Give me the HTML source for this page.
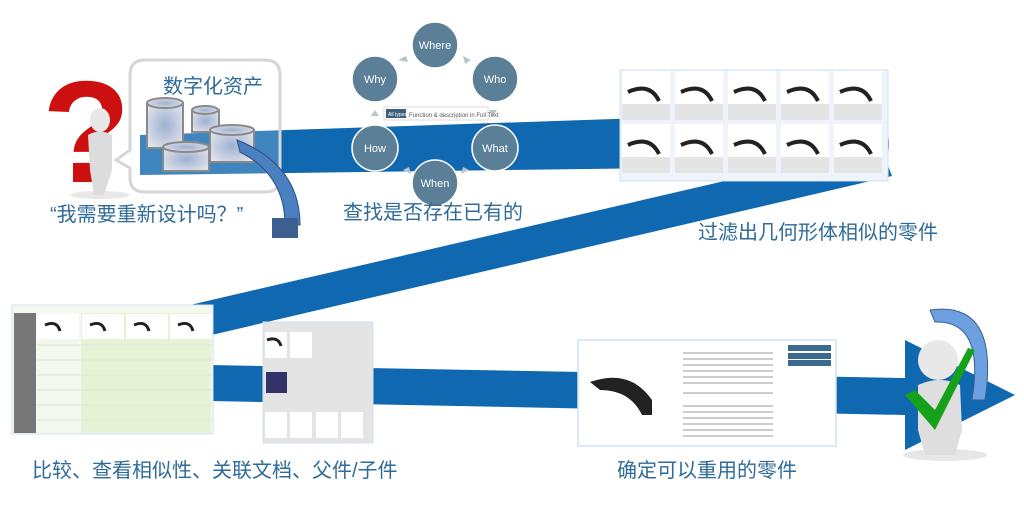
<!DOCTYPE html>
<html><head><meta charset="utf-8"><style>
body{margin:0;background:#fff;width:1024px;height:506px;overflow:hidden;position:relative;font-family:"Liberation Sans","Noto Sans CJK SC",sans-serif}
.t{position:absolute;color:#2e6b99;font-size:20px;white-space:nowrap;font-family:"Liberation Sans","Noto Sans CJK SC",sans-serif}
</style></head><body>
<svg width="1024" height="506" style="position:absolute;left:0;top:0">
<defs>
<radialGradient id="cy" cx="50%" cy="50%" r="60%"><stop offset="0" stop-color="#9fb0d0"/><stop offset="1" stop-color="#dfe3ea"/></radialGradient>
</defs>
<path d="M140,135 L880,110 Q895,140 885,165 L140,175 Z" fill="#1068b0"/>
<path d="M880,145 L892,176 L190,340 L190,305 Z" fill="#1068b0"/>
<path d="M210,365 L905,378 L905,340 L1015,395 L905,450 L905,415 L210,401 Z" fill="#1068b0"/>
<path d="M145,60 H265 Q280,60 280,75 V178 Q280,192 265,192 H145 Q130,192 130,178 V168 L116,160 L130,150 V75 Q130,60 145,60 Z" fill="rgba(255,255,255,0.2)" stroke="#d6d6d6" stroke-width="3"/>
<g stroke="#8a8a8a" stroke-width="2" fill="url(#cy)">
<rect x="147" y="103" width="36" height="45"/><ellipse cx="165" cy="103" rx="18" ry="5"/>
<rect x="192" y="110" width="27" height="22"/><ellipse cx="205" cy="110" rx="13" ry="4"/>
<rect x="163" y="147" width="46" height="24"/><ellipse cx="186" cy="147" rx="23" ry="5"/>
<rect x="210" y="130" width="44" height="32"/><ellipse cx="232" cy="130" rx="22" ry="5"/>
</g>
<path d="M237,140 Q300,165 300,225 L285,225 Q285,175 240,152 Z" fill="#4a7fc0" stroke="#2d4f80"/>
<rect x="272" y="218" width="26" height="20" fill="#3d5f90"/>
<text x="42" y="182" font-size="145" font-weight="bold" fill="#cc1010" font-family="Liberation Sans">?</text>
<ellipse cx="100" cy="195" rx="30" ry="4" fill="#e8e8e8"/>
<ellipse cx="100" cy="120" rx="10" ry="12" fill="#e8e8e8"/>
<path d="M88,135 Q100,128 112,135 L112,170 L104,195 L94,195 L90,170 Z" fill="#dcdcdc"/>
<g fill="#5a7f96" stroke="#fff" stroke-width="1.5">
<circle cx="435" cy="45" r="23"/><circle cx="495" cy="79" r="23"/><circle cx="495" cy="148" r="23"/>
<circle cx="435" cy="183" r="23"/><circle cx="375" cy="148" r="23"/><circle cx="375" cy="79" r="23"/>
</g>
<g fill="#fff" font-size="11" text-anchor="middle" font-family="Liberation Sans">
<text x="435" y="49">Where</text><text x="495" y="83">Who</text><text x="495" y="152">What</text>
<text x="435" y="187">When</text><text x="375" y="152">How</text><text x="375" y="83">Why</text>
</g>
<g fill="#b8c4cc"><path d="M398,60 l8,-4 l2,6 z"/><path d="M463,56 l8,4 l-6,4 z"/><path d="M489,110 h8 l-4,6 z"/><path d="M469,170 l-8,4 l2,-7 z"/><path d="M403,170 l8,4 l-2,-7z"/><path d="M371,116 l4,-6 l4,6z"/></g>
<rect x="384" y="107" width="104" height="13" fill="#fff" stroke="#ddd"/>
<rect x="386" y="109" width="20" height="9" fill="#3e5f7c"/>
<text x="388" y="116" font-size="5" fill="#fff" font-family="Liberation Sans">All types</text>
<text x="409" y="117" font-size="6" fill="#555" font-family="Liberation Sans">Function &amp; description in Full Text</text>
<rect x="620" y="70" width="268" height="111" fill="#eef4fa" stroke="#cfe2f3"/>
<g fill="#e4e4e4">
<rect x="622" y="71" width="48" height="49"/><rect x="675" y="71" width="48" height="49"/><rect x="728" y="71" width="48" height="49"/><rect x="781" y="71" width="48" height="49"/><rect x="834" y="71" width="48" height="49"/>
<rect x="622" y="124" width="48" height="49"/><rect x="675" y="124" width="48" height="49"/><rect x="728" y="124" width="48" height="49"/><rect x="781" y="124" width="48" height="49"/><rect x="834" y="124" width="48" height="49"/>
</g>
<g fill="#fff"><rect x="622" y="71" width="48" height="33"/><rect x="675" y="71" width="48" height="33"/><rect x="728" y="71" width="48" height="33"/><rect x="781" y="71" width="48" height="33"/><rect x="834" y="71" width="48" height="33"/>
<rect x="622" y="124" width="48" height="33"/><rect x="675" y="124" width="48" height="33"/><rect x="728" y="124" width="48" height="33"/><rect x="781" y="124" width="48" height="33"/><rect x="834" y="124" width="48" height="33"/></g>
<g fill="none" stroke="#222" stroke-width="4">
<path d="M628,92 Q650,82 659,101"/><path d="M681,92 Q703,82 712,101"/><path d="M734,92 Q756,82 765,101"/><path d="M787,92 Q809,82 818,101"/><path d="M840,92 Q862,82 871,101"/>
<path d="M628,145 Q650,135 659,154"/><path d="M681,145 Q703,135 712,154"/><path d="M734,145 Q756,135 765,154"/><path d="M787,145 Q809,135 818,154"/><path d="M840,145 Q862,135 871,154"/>
</g>
<rect x="12" y="305" width="201" height="129" fill="#f4f8ee" stroke="#cfe2f3"/>
<rect x="14" y="313" width="22" height="120" fill="#777"/>
<rect x="81" y="313" width="130" height="120" fill="#e6f2d6"/>
<g fill="#fff"><rect x="37" y="314" width="42" height="25"/><rect x="82" y="314" width="42" height="25"/><rect x="126" y="314" width="42" height="25"/><rect x="170" y="314" width="42" height="25"/></g>
<g fill="none" stroke="#222" stroke-width="3"><path d="M45,325 Q57,320 60,331"/><path d="M90,325 Q102,320 105,331"/><path d="M134,325 Q146,320 149,331"/><path d="M178,325 Q190,320 193,331"/></g>
<g stroke="#dde6d0" stroke-width="1"><line x1="37" y1="345" x2="212" y2="345"/><line x1="37" y1="360" x2="212" y2="360"/><line x1="37" y1="375" x2="212" y2="375"/><line x1="37" y1="390" x2="212" y2="390"/><line x1="37" y1="405" x2="212" y2="405"/><line x1="37" y1="420" x2="212" y2="420"/></g>
<rect x="263" y="322" width="110" height="121" fill="#e4e4e4" stroke="#cfe2f3"/>
<rect x="265" y="332" width="22" height="26" fill="#fff"/><rect x="290" y="332" width="22" height="26" fill="#fff"/>
<path d="M267,340 Q278,336 281,346" stroke="#222" stroke-width="3" fill="none"/>
<rect x="266" y="372" width="21" height="21" fill="#33336a"/>
<rect x="265" y="412" width="22" height="26" fill="#fff"/><rect x="290" y="412" width="22" height="26" fill="#fff"/><rect x="316" y="412" width="22" height="26" fill="#fff"/><rect x="341" y="412" width="22" height="26" fill="#fff"/>
<rect x="578" y="340" width="258" height="106" fill="#fff" stroke="#cfe2f3" stroke-width="1.5"/>
<path d="M590,382 Q630,368 652,400 L652,415 L642,415 Q630,390 600,390 Z" fill="#222"/>
<rect x="788" y="345" width="43" height="6" fill="#3b6a90"/><rect x="788" y="353" width="43" height="6" fill="#3b6a90"/><rect x="788" y="360" width="43" height="6" fill="#3b6a90"/>
<g fill="#ccc"><rect x="683" y="352" width="90" height="2"/><rect x="683" y="358" width="90" height="2"/><rect x="683" y="364" width="90" height="2"/><rect x="683" y="370" width="90" height="2"/><rect x="683" y="376" width="90" height="2"/><rect x="683" y="382" width="90" height="2"/><rect x="683" y="392" width="90" height="2"/><rect x="683" y="405" width="90" height="2"/><rect x="683" y="411" width="90" height="2"/><rect x="683" y="417" width="90" height="2"/><rect x="683" y="423" width="90" height="2"/><rect x="683" y="429" width="90" height="2"/><rect x="683" y="435" width="90" height="2"/></g>
<ellipse cx="945" cy="455" rx="42" ry="6" fill="#e6e6e6"/>
<path d="M930,310 Q1000,300 985,400 L972,400 Q985,320 935,322 Z" fill="#6da0e0" stroke="#3a5f90"/>
<circle cx="938" cy="360" r="20" fill="#e8e8e8"/>
<path d="M918,385 Q940,375 960,385 L962,430 L955,455 L925,455 L918,430 Z" fill="#dedede"/>
<path d="M905,395 L935,430 L975,350 L968,348 L935,410 L915,390 Z" fill="#16a11a"/>
</svg>
<div class="t" style="left:163px;top:70px">数字化资产</div>
<div class="t" style="left:50px;top:198px">“我需要重新设计吗？”</div>
<div class="t" style="left:343px;top:196px">查找是否存在已有的</div>
<div class="t" style="left:698px;top:216px">过滤出几何形体相似的零件</div>
<div class="t" style="left:32px;top:454px">比较、查看相似性、关联文档、父件/子件</div>
<div class="t" style="left:617px;top:454px">确定可以重用的零件</div>
</body></html>
